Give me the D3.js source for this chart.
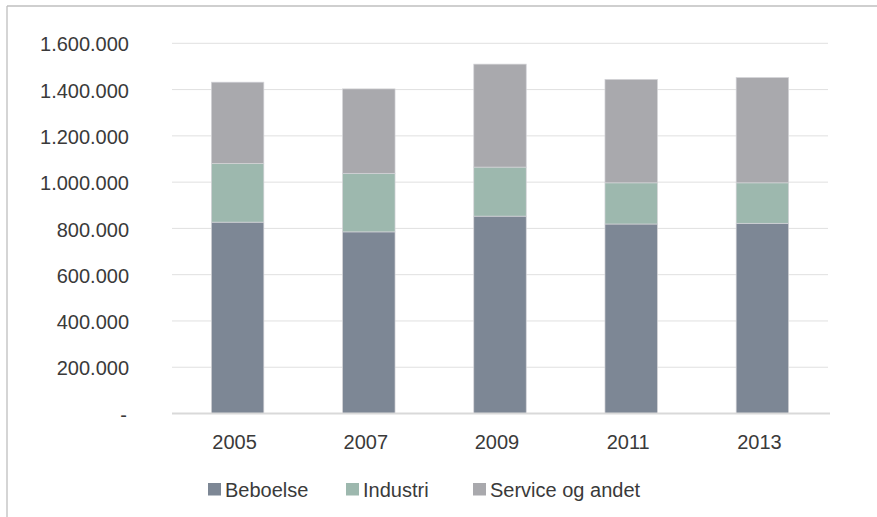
<!DOCTYPE html>
<html>
<head>
<meta charset="utf-8">
<script src="https://cdn.jsdelivr.net/npm/d3@7"></script>
<style>
  html, body { margin: 0; padding: 0; background: #fff; }
  svg { display: block; font-family: "Liberation Sans", Arial, Helvetica, sans-serif; }
</style>
</head>
<body>
<svg id="chart" width="877" height="517"></svg>
<script>
const years = ["2005", "2007", "2009", "2011", "2013"];
const seriesNames = ["Beboelse", "Industri", "Service og andet"];
const beboelse = [827000, 785000, 853000, 819000, 822000];
const industri = [254000, 253000, 212000, 178000, 175000];
const service = [351000, 365000, 445000, 447000, 455000];
const yTicks = [0, 200000, 400000, 600000, 800000, 1000000, 1200000, 1400000, 1600000];
const colors = ["#7d8795", "#9db8ae", "#a9a9ad"];

const svg = d3.select("#chart");
const margin = { left: 172, right: 49, top: 43.3, bottom: 103.5 };
const W = 877, H = 517;

const x = d3.scaleBand().domain(years).range([margin.left, W - margin.right]).paddingInner(0.6).paddingOuter(0.3);
const y = d3.scaleLinear().domain([0, 1600000]).range([H - margin.bottom, margin.top]);

// frame (only top and left visible)
svg.append("line").attr("x1", 7).attr("x2", 877).attr("y1", 6).attr("y2", 6).attr("stroke", "#bfbfbf").attr("stroke-width", 1.3);
svg.append("line").attr("x1", 7).attr("x2", 7).attr("y1", 6).attr("y2", 517).attr("stroke", "#bfbfbf").attr("stroke-width", 1.3);

// gridlines
const fmt = v => v === 0 ? "-" : d3.format(",")(v).replace(/,/g, ".");
svg.append("g").selectAll("line").data(yTicks.filter(d => d > 0)).join("line")
  .attr("x1", margin.left).attr("x2", W - margin.right)
  .attr("y1", d => y(d)).attr("y2", d => y(d))
  .attr("stroke", "#e0e0e0").attr("stroke-width", 1);

// y axis labels
const yAxis = d3.axisLeft(y).tickValues(yTicks).tickFormat(fmt).tickSize(0).tickPadding(0);
const gy = svg.append("g").attr("transform", "translate(129,0)").call(yAxis);
gy.select(".domain").remove();
gy.selectAll("text").attr("font-size", 20).attr("fill", "#3a3a3a")
  .attr("font-family", "'Liberation Sans', Arial, sans-serif").attr("dy", "0.38em")
  .attr("dx", d => d === 0 ? -2 : 0);

// stacked bars
const data = years.map((yr, i) => ({ year: yr, Beboelse: beboelse[i], Industri: industri[i], "Service og andet": service[i] }));
const stack = d3.stack().keys(seriesNames)(data);
svg.append("g").selectAll("g").data(stack).join("g")
  .attr("fill", (d, i) => colors[i])
  .selectAll("rect").data(d => d).join("rect")
  .attr("x", d => x(d.data.year))
  .attr("width", x.bandwidth())
  .attr("y", d => y(d[1]))
  .attr("height", d => y(d[0]) - y(d[1]))
  .attr("stroke", "#d4d4d8").attr("stroke-width", 0.7);

// baseline
svg.append("line").attr("x1", margin.left).attr("x2", W - margin.right + 2)
  .attr("y1", y(0)).attr("y2", y(0)).attr("stroke", "#d9d9d9").attr("stroke-width", 2);

// x axis labels
const xAxis = d3.axisBottom(x).tickSize(0).tickPadding(0);
const gx = svg.append("g").attr("transform", `translate(0,${y(0)})`).call(xAxis);
gx.select(".domain").remove();
gx.selectAll("text").attr("font-size", 20).attr("fill", "#3a3a3a")
  .attr("font-family", "'Liberation Sans', Arial, sans-serif")
  .attr("y", 35).attr("dy", 0).attr("dx", -3);

// legend
const legendX = [208, 346, 473];
const lg = svg.append("g").selectAll("g").data(seriesNames).join("g")
  .attr("transform", (d, i) => `translate(${legendX[i]},483)`);
lg.append("rect").attr("width", 13).attr("height", 12.5).attr("fill", (d, i) => colors[i]);
lg.append("text").attr("x", 17).attr("y", 14).attr("font-size", 20).attr("fill", "#3a3a3a")
  .text(d => d);
</script>
</body>
</html>
